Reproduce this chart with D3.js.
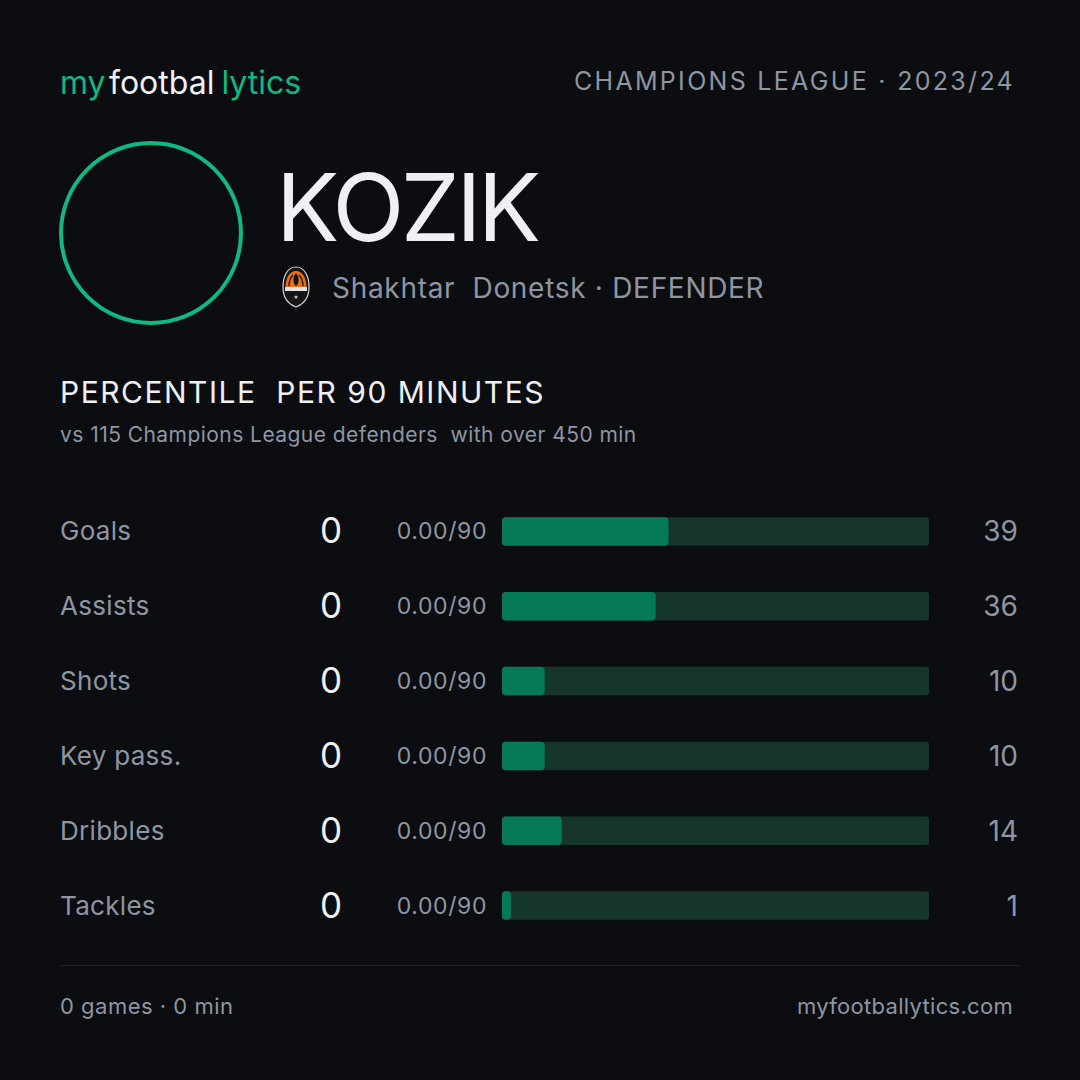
<!DOCTYPE html>
<html>
<head>
<meta charset="utf-8">
<script src="https://cdn.jsdelivr.net/npm/d3@7"></script>
<style>
  html, body { margin: 0; padding: 0; background: #0b0d11; }
  svg { display: block; font-family: Inter, "Noto Sans", sans-serif; }
  svg text { white-space: pre; }
</style>
</head>
<body>
<div id="card"></div>
<script>
// chart data
var metrics = ["Goals", "Assists", "Shots", "Key pass.", "Dribbles", "Tackles"];
var totals = [0, 0, 0, 0, 0, 0];
var per90 = ["0.00/90", "0.00/90", "0.00/90", "0.00/90", "0.00/90", "0.00/90"];
var percentiles = [39, 36, 10, 10, 14, 1];

var width = 1080, height = 1080;
var green = "#10b981", barFill = "#067a58", track = "#16352b";
var gray = "#8e96a3", white = "#eef0f3";

var svg = d3.select("#card")
	.append("svg")
	.attr("width", width)
	.attr("height", height);

svg.append("rect").attr("width", width).attr("height", height).attr("fill", "#0b0d11");

// brand
var brand = svg.append("text")
	.attr("x", 60).attr("y", 94)
	.style("font-size", "32px")
	.style("letter-spacing", "0px");
brand.append("tspan").attr("fill", green).text("my");
brand.append("tspan").attr("fill", white).attr("dx", 3).text("footbal");
brand.append("tspan").attr("fill", green).attr("dx", 7).text("lytics");

svg.append("text")
	.attr("x", 1015).attr("y", 90)
	.attr("text-anchor", "end")
	.attr("fill", gray)
	.style("font-size", "25px")
	.style("letter-spacing", "2.3px")
	.text("CHAMPIONS LEAGUE · 2023/24");

// avatar ring
svg.append("circle")
	.attr("cx", 151).attr("cy", 233).attr("r", 90)
	.attr("fill", "none")
	.attr("stroke", green)
	.attr("stroke-width", 4);

svg.append("text")
	.attr("x", 276).attr("y", 241)
	.attr("fill", white)
	.style("font-size", "94px")
	.style("letter-spacing", "-3.6px")
	.text("KOZIK");

// crest
var crest = svg.append("g").attr("transform", "translate(296,287)");
crest.append("path")
	.attr("d", "M0,-20 C9,-20 13,-10 13,0 C13,10 8,17 0,20 C-8,17 -13,10 -13,0 C-13,-10 -9,-20 0,-20 Z")
	.attr("fill", "#151515").attr("stroke", "#d8d8d8").attr("stroke-width", 1.2);
crest.append("path")
	.attr("d", "M0,-16 C7,-16 10.5,-8 10.5,0 L-10.5,0 C-10.5,-8 -7,-16 0,-16 Z")
	.attr("fill", "#ea6f1c");
crest.append("path")
	.attr("d", "M0,-14 C3.5,-10 3.5,-4 0,-1 C-3.5,-4 -3.5,-10 0,-14 Z")
	.attr("fill", "#151515");
crest.append("path")
	.attr("d", "M-7,-1 C-7,-6 -5,-10 -3,-12 M7,-1 C7,-6 5,-10 3,-12")
	.attr("fill", "none").attr("stroke", "#151515").attr("stroke-width", 1.3);
crest.append("rect").attr("x", -11).attr("y", 0).attr("width", 22).attr("height", 4).attr("fill", "#e6e6e6");
crest.append("circle").attr("cx", 0).attr("cy", 10).attr("r", 1.6).attr("fill", "#bbb");

svg.append("text")
	.attr("x", 332).attr("y", 298)
	.attr("fill", gray)
	.style("font-size", "28px")
	.style("letter-spacing", "0.7px")
	.text("Shakhtar  Donetsk · DEFENDER");

// section title
svg.append("text")
	.attr("x", 60).attr("y", 403)
	.attr("fill", white)
	.style("font-size", "30px")
	.style("letter-spacing", "1.5px")
	.text("PERCENTILE  PER 90 MINUTES");

svg.append("text")
	.attr("x", 60).attr("y", 442)
	.attr("fill", gray)
	.style("font-size", "21px")
	.style("letter-spacing", "0.45px")
	.text("vs 115 Champions League defenders  with over 450 min");

// scales
var y = d3.scaleBand()
	.domain(metrics)
	.range([494, 943])
	.paddingInner(0.62)
	.paddingOuter(0.31);

var x = d3.scaleLinear()
	.domain([0, 100])
	.range([502, 929]);

var rows = svg.selectAll(".row")
	.data(metrics)
	.enter()
	.append("g")
	.attr("class", "row");

function mid(d) { return y(d) + y.bandwidth() / 2; }

rows.append("text")
	.attr("x", 60)
	.attr("y", function (d) { return mid(d) + 9; })
	.attr("fill", gray)
	.style("font-size", "26px")
	.style("letter-spacing", "0.3px")
	.text(function (d) { return d; });

rows.append("text")
	.attr("x", 331)
	.attr("y", function (d) { return mid(d) + 12; })
	.attr("text-anchor", "middle")
	.attr("fill", white)
	.style("font-size", "35px")
	.text(function (d, i) { return totals[i]; });

rows.append("text")
	.attr("x", 487)
	.attr("y", function (d) { return mid(d) + 8; })
	.attr("text-anchor", "end")
	.attr("fill", gray)
	.style("font-size", "23px")
	.style("letter-spacing", "0.6px")
	.text(function (d, i) { return per90[i]; });

rows.append("rect")
	.attr("x", x(0))
	.attr("y", function (d) { return y(d); })
	.attr("width", x(100) - x(0))
	.attr("height", y.bandwidth())
	.attr("rx", 3)
	.attr("fill", track);

rows.append("rect")
	.attr("x", x(0))
	.attr("y", function (d) { return y(d); })
	.attr("width", function (d, i) { return Math.max(x(percentiles[i]) - x(0), 9); })
	.attr("height", y.bandwidth())
	.attr("rx", 4)
	.attr("fill", barFill);

rows.append("text")
	.attr("x", 1018)
	.attr("y", function (d) { return mid(d) + 10; })
	.attr("text-anchor", "end")
	.attr("fill", gray)
	.style("font-size", "28px")
	.text(function (d, i) { return percentiles[i]; });

// footer
svg.append("line")
	.attr("x1", 60).attr("x2", 1020)
	.attr("y1", 965.5).attr("y2", 965.5)
	.attr("stroke", "#1e212a")
	.attr("stroke-width", 1);

svg.append("text")
	.attr("x", 60).attr("y", 1014)
	.attr("fill", gray)
	.style("font-size", "22px")
	.style("letter-spacing", "0.5px")
	.text("0 games · 0 min");

svg.append("text")
	.attr("x", 1013).attr("y", 1014)
	.attr("text-anchor", "end")
	.attr("fill", gray)
	.style("font-size", "22px")
	.style("letter-spacing", "0.3px")
	.text("myfootballytics.com");
</script>
</body>
</html>
